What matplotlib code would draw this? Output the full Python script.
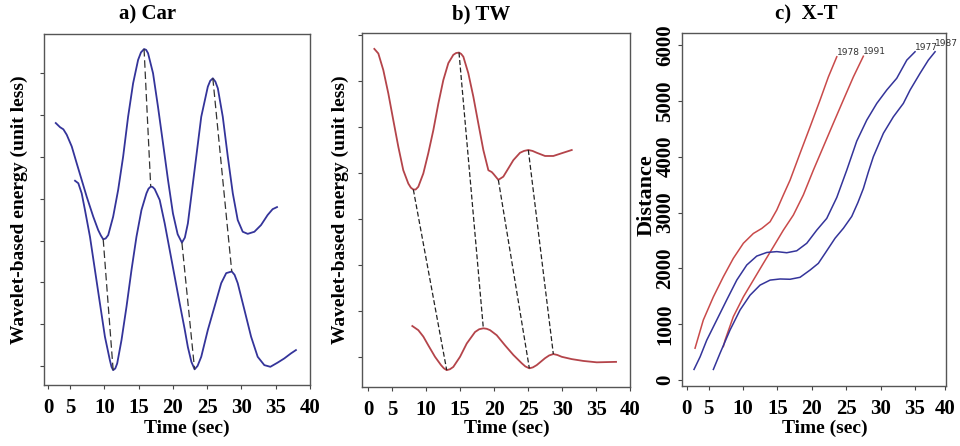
import matplotlib
matplotlib.use("Agg")
import matplotlib.pyplot as plt

# a) Car - wavelet energy, two detectors
car_up_t = [2.92, 3.55, 4.03, 4.52, 5.25, 5.97, 6.70, 7.43, 8.39, 9.11,
            9.50, 9.84, 10.20, 10.57, 11.29, 12.02, 12.75, 13.47, 14.20, 14.93,
            15.35, 15.80, 16.10, 16.38, 17.11, 17.83, 18.56, 19.29, 20.01, 20.70,
            21.32, 21.75, 22.19, 23.17, 24.14, 25.10, 25.45, 25.83, 26.20, 26.56,
            27.28, 28.01, 28.74, 29.46, 30.19, 30.92, 31.89, 32.86, 33.82, 34.55,
            35.19]
car_up_e = [6.81, 6.71, 6.66, 6.53, 6.25, 5.85, 5.45, 5.05, 4.57, 4.25,
            4.12, 4.03, 4.05, 4.13, 4.57, 5.21, 6.01, 6.96, 7.76, 8.32,
            8.50, 8.58, 8.56, 8.48, 8.00, 7.20, 6.33, 5.45, 4.65, 4.15,
            3.95, 4.07, 4.41, 5.69, 6.96, 7.68, 7.82, 7.88, 7.80, 7.64,
            6.96, 6.01, 5.13, 4.49, 4.21, 4.16, 4.21, 4.37, 4.61, 4.75,
            4.80]
car_lo_t = [5.73, 6.21, 6.70, 7.18, 7.91, 8.63, 9.36, 10.09, 10.81, 11.05,
            11.29, 11.60, 11.88, 12.51, 13.24, 13.97, 14.69, 15.42, 16.15, 16.45,
            16.77, 17.05, 17.35, 18.08, 18.81, 19.53, 20.26, 20.99, 21.70, 22.19,
            22.70, 23.17, 23.60, 24.14, 25.10, 26.08, 27.05, 27.78, 28.59, 29.00,
            29.46, 30.44, 31.41, 32.37, 33.34, 34.22, 35.28, 36.25, 37.22, 37.95]
car_lo_e = [5.43, 5.37, 5.13, 4.73, 4.09, 3.30, 2.50, 1.70, 1.14, 0.98,
            0.90, 0.94, 1.06, 1.62, 2.42, 3.30, 4.09, 4.73, 5.13, 5.24,
            5.29, 5.28, 5.23, 4.97, 4.41, 3.78, 3.14, 2.50, 1.90, 1.45,
            1.10, 0.92, 1.00, 1.22, 1.86, 2.42, 2.98, 3.22, 3.26, 3.18,
            2.98, 2.34, 1.70, 1.22, 1.02, 0.98, 1.08, 1.18, 1.30, 1.38]
car_links = [(11, 10), (21, 20), (30, 31), (37, 38)]  # upper idx, lower idx

# b) TW
tw_up_t = [2.37, 2.96, 3.69, 4.43, 5.16, 5.90, 6.63, 7.37, 7.75, 8.11,
           8.45, 8.84, 9.58, 10.31, 11.05, 11.79, 12.52, 13.26, 13.99, 14.40,
           14.83, 15.15, 15.47, 16.20, 16.94, 17.67, 18.41, 19.15, 19.65, 19.90,
           20.62, 21.35, 22.09, 22.83, 23.81, 24.40, 25.03, 25.65, 26.27, 27.49,
           28.71, 29.95, 31.42]
tw_up_e = [7.70, 7.60, 7.24, 6.73, 6.15, 5.57, 5.06, 4.77, 4.68, 4.64,
           4.64, 4.70, 4.99, 5.43, 5.93, 6.51, 7.02, 7.39, 7.57, 7.61,
           7.62, 7.59, 7.53, 7.17, 6.66, 6.08, 5.50, 5.06, 5.02, 4.98,
           4.85, 4.92, 5.10, 5.28, 5.44, 5.48, 5.50, 5.48, 5.44, 5.37,
           5.37, 5.43, 5.50]
tw_lo_t = [7.96, 8.84, 9.58, 10.31, 11.30, 12.18, 12.60, 13.02, 13.50, 13.99,
           14.98, 15.97, 17.19, 17.80, 18.41, 18.90, 19.40, 20.38, 21.60, 22.83,
           24.06, 24.60, 25.18, 25.70, 26.27, 27.49, 28.10, 28.71, 29.30, 29.95,
           31.42, 33.13, 35.10, 37.94]
tw_lo_e = [1.67, 1.58, 1.44, 1.25, 1.00, 0.82, 0.75, 0.71, 0.73, 0.78,
           1.00, 1.29, 1.54, 1.60, 1.62, 1.61, 1.58, 1.47, 1.25, 1.04,
           0.86, 0.79, 0.75, 0.77, 0.82, 0.97, 1.03, 1.06, 1.04, 1.00,
           0.95, 0.91, 0.88, 0.89]
tw_links = [(9, 7), (20, 14), (30, 22), (36, 27)]

# c) X-T trajectories
r1978_t = [3.04, 4.24, 5.70, 7.15, 8.60, 10.06, 11.51, 12.73, 13.94, 14.91,
           15.87, 16.84, 18.29, 19.75, 21.20, 22.41, 23.63]
r1978_d = [570, 1075, 1490, 1850, 2180, 2450, 2625, 2715, 2835, 3045,
           3315, 3580, 4060, 4535, 5015, 5430, 5790]
r1991_t = [7.15, 7.40, 8.60, 10.06, 11.51, 12.96, 14.41, 15.87, 17.32, 18.77,
           20.23, 21.68, 23.13, 24.58, 26.04, 27.49]
r1991_d = [600, 715, 1135, 1490, 1790, 2090, 2385, 2685, 2955, 3315,
           3760, 4180, 4600, 5015, 5430, 5800]
b1977_t = [2.89, 3.77, 4.74, 6.19, 7.64, 9.10, 10.55, 12.00, 13.46, 14.91,
           16.36, 17.81, 19.27, 20.72, 22.17, 23.63, 25.08, 26.53, 27.98, 29.44,
           30.89, 32.34, 33.80, 35.00]
b1977_d = [190, 415, 715, 1075, 1435, 1790, 2060, 2220, 2285, 2300,
           2280, 2315, 2450, 2685, 2895, 3270, 3760, 4280, 4655, 4955,
           5195, 5405, 5730, 5880]
b1987_t = [5.70, 6.67, 8.12, 9.58, 11.03, 12.48, 13.94, 15.39, 16.84, 18.29,
           19.75, 20.95, 21.93, 23.38, 24.60, 25.80, 26.70, 27.49, 28.20, 28.94,
           30.40, 31.85, 33.30, 34.28, 35.73, 36.93, 37.91]
b1987_d = [190, 480, 895, 1255, 1520, 1700, 1790, 1810, 1805, 1840,
           1970, 2090, 2270, 2540, 2720, 2930, 3180, 3430, 3720, 4000,
           4420, 4715, 4955, 5195, 5495, 5730, 5880]

time_labels = ["0", "5", "10", "15", "20", "25", "30", "35", "40"]

serif = "Liberation Serif"
blue = "#34349a"
red_b = "#b4444a"
red_c = "#c94a4a"

fig = plt.figure(figsize=(9.6, 4.46), dpi=100)
fig.patch.set_facecolor("white")


def frame(ax, xlim, xticks):
    ax.set_xlim(*xlim)
    ax.set_xticks(xticks, time_labels, fontsize=15, fontweight="bold", family=serif)
    ax.tick_params(axis="x", length=3, width=0.8, pad=6.5, color="#444")
    ax.tick_params(axis="y", length=3, width=0.8, color="#444")
    for s in ax.spines.values():
        s.set_color("#555")
        s.set_linewidth(1.0)


# panel a
ax1 = fig.add_axes([0.0458, 0.1368, 0.2771, 0.787])
ax1.plot(car_up_t, car_up_e, color=blue, lw=1.3, solid_joinstyle="round")
ax1.plot(car_lo_t, car_lo_e, color=blue, lw=1.3, solid_joinstyle="round")
for i, j in car_links:
    ax1.plot([car_up_t[i], car_lo_t[j]], [car_up_e[i], car_lo_e[j]],
             color="#333", lw=0.9, linestyle=(0, (6, 3)))
ax1.set_ylim(0.545, 8.94)
ax1.set_yticks(range(1, 9), [])
frame(ax1, (1.2, 40), [1.8, 5, 10, 15, 20, 25, 30, 35, 40])

# panel b
ax2 = fig.add_axes([0.3774, 0.133, 0.2789, 0.7924])
ax2.plot(tw_up_t, tw_up_e, color=red_b, lw=1.3, solid_joinstyle="round")
ax2.plot(tw_lo_t, tw_lo_e, color=red_b, lw=1.3, solid_joinstyle="round")
for i, j in tw_links:
    ax2.plot([tw_up_t[i], tw_lo_t[j]], [tw_up_e[i], tw_lo_e[j]],
             color="#222", lw=0.9, linestyle=(0, (4, 2)))
ax2.set_ylim(0.35, 8.04)
ax2.set_yticks(range(1, 9), [])
frame(ax2, (0.6, 40), [1.5, 5, 10, 15, 20, 25, 30, 35, 40])

# panel c
ax3 = fig.add_axes([0.7101, 0.1345, 0.275, 0.7908])
ax3.plot(r1978_t, r1978_d, color=red_c, lw=1.1, solid_joinstyle="round")
ax3.plot(r1991_t, r1991_d, color=red_c, lw=1.1, solid_joinstyle="round")
ax3.plot(b1977_t, b1977_d, color=blue, lw=1.1, solid_joinstyle="round")
ax3.plot(b1987_t, b1987_d, color=blue, lw=1.1, solid_joinstyle="round")
for t, d, lab, dy in [(r1978_t, r1978_d, "1978", 0), (r1991_t, r1991_d, "1991", 0),
                      (b1977_t, b1977_d, "1977", 0), (b1987_t, b1987_d, "1987", 60)]:
    ax3.text(t[-1], d[-1] + dy, lab, fontsize=6.5, color="#333",
             ha="left", va="bottom", family="DejaVu Sans")
ax3.set_ylim(-107, 6210)
ax3.set_yticks(range(0, 7000, 1000),
               [str(v) for v in range(0, 7000, 1000)],
               fontsize=15, fontweight="bold", family=serif, rotation=90, va="center")
ax3.tick_params(axis="y", pad=1.5)
frame(ax3, (1.1, 39.45), [1.8, 5, 10, 15, 20, 25, 30, 35, 39.3])

# titles and axis labels
fig.text(0.154, 0.968, "a) Car", fontsize=15, fontweight="bold", family=serif,
         ha="center", va="center")
fig.text(0.501, 0.968, "b) TW", fontsize=15, fontweight="bold", family=serif,
         ha="center", va="center")
fig.text(0.840, 0.968, "c)  X-T", fontsize=15, fontweight="bold", family=serif,
         ha="center", va="center")
for xc in [0.195, 0.528, 0.859]:
    fig.text(xc, 0.040, "Time (sec)", fontsize=14, fontweight="bold", family=serif,
             ha="center", va="center")
fig.text(0.0198, 0.529, "Wavelet-based energy (unit less)", fontsize=14,
         fontweight="bold", family=serif, rotation=90, ha="center", va="center")
fig.text(0.3547, 0.529, "Wavelet-based energy (unit less)", fontsize=14,
         fontweight="bold", family=serif, rotation=90, ha="center", va="center")
fig.text(0.674, 0.563, "Distance", fontsize=16, fontweight="bold", family=serif,
         rotation=90, ha="center", va="center")

fig.savefig("out.png", dpi=100, facecolor="white")
